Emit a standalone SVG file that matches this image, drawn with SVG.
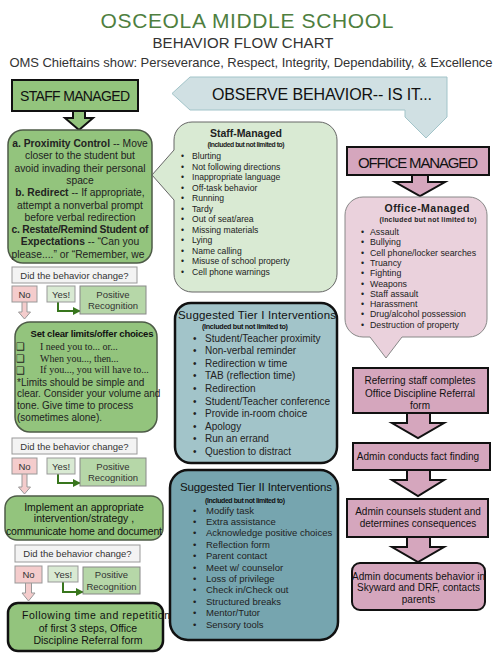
<svg xmlns="http://www.w3.org/2000/svg" width="500" height="656" viewBox="0 0 500 656">
<defs>
<style>
text{font-family:"Liberation Sans",Arial,sans-serif;fill:#222}
.c{text-anchor:middle}
.b{font-weight:bold}
.g{fill:#93c47d;stroke:#4d5b47;stroke-width:1.5}
.pk{fill:#d5a6bd;stroke:#111;stroke-width:2}
.blk{stroke:#111;stroke-width:2}
.did{fill:#f3f3f3;stroke:#999;stroke-width:1}
.no{fill:#f4cccc;stroke:#999;stroke-width:1}
.yes{fill:#d9ead3;stroke:#999;stroke-width:1}
.pr{fill:#b6d7a8;stroke:#888;stroke-width:1}
.sm{font-size:9.5px;fill:#333}
.el{fill:none;stroke:#38761d;stroke-width:2;marker-end:url(#ah)}
.na{fill:#f4cccc;stroke:#999;stroke-width:1}
.bl{font-size:8.6px;fill:#333}
.t1{font-size:10px;fill:#222}
.t2{font-size:9.5px;fill:#1a1a1a}
.cb{font-family:"DejaVu Sans",sans-serif;font-size:10px}
.sf{font-family:"Liberation Serif",serif}
</style>
<marker id="ah" viewBox="0 0 10 10" refX="9" refY="5" markerWidth="4" markerHeight="4" orient="auto"><path d="M0,0 L10,5 L0,10 Z" fill="#38761d"/></marker>
</defs>
<rect width="500" height="656" fill="#fff"/>

<g id="title">
<text x="247" y="28" class="c" style="font-size:21px;fill:#4f7f3f" textLength="293">OSCEOLA MIDDLE SCHOOL</text>
<text x="243" y="48" class="c" style="font-size:15px;fill:#333" textLength="181">BEHAVIOR FLOW CHART</text>
<text x="251" y="67" class="c" style="font-size:13px;fill:#333" textLength="483">OMS Chieftains show: Perseverance, Respect, Integrity, Dependability, &amp; Excellence</text>
</g>

<g id="connectors">
<path id="observe" d="M190,77 L447,77 L447,117 L426,138 L405,117 L405,110 L190,110 L172,93.5 Z" fill="#d0e0e3" stroke="#a2c4c9" stroke-width="1"/>
<path d="M73,112 V118 H65 L79,130 L93,118 H85 V112" fill="#93c47d" class="blk"/>
<path d="M412,175 V182 H395 L420,196 L445,182 H428 V175" fill="#d5a6bd" class="blk"/>
<path d="M407,413 V423 H392 L418,438 L444,423 H430 V413" fill="#d5a6bd" class="blk"/>
<path d="M407,470 V480 H392 L418,496 L444,480 H430 V470" fill="#d5a6bd" class="blk"/>
<path d="M407,537 V547 H392 L418,562 L444,547 H430 V537" fill="#d5a6bd" class="blk"/>
<path d="M22,302 V312 H18.5 L24.5,319 L30.5,312 H27 V302" class="na"/>
<path d="M22,474 V487 H18.5 L24.5,494 L30.5,487 H27 V474" class="na"/>
<path d="M25.5,583 V593 H22 L28.5,601 L35,593 H31.5 V583" class="na"/>
<path d="M58,302 V311 H80" class="el"/>
<path d="M58,474 V483 H80" class="el"/>
<path d="M63,582 V592 H83" class="el"/>
</g>

<g id="observe-label"><text x="322" y="100" class="c" style="font-size:16px;fill:#111" textLength="220">OBSERVE BEHAVIOR-- IS IT...</text></g>

<g id="staff-managed">
<rect x="12" y="80" width="126" height="31" class="g" style="stroke:#111;stroke-width:2"/>
<text x="75" y="101" class="c" style="font-size:14px;fill:#111" textLength="110">STAFF MANAGED</text>
</g>

<g id="abc">
<rect x="8" y="130" width="144" height="133" rx="15" class="g"/>
<g style="font-size:10.3px" class="c">
<text x="80" y="147"><tspan class="b">a. Proximity Control</tspan> -- Move</text>
<text x="80" y="159.3">closer to the student but</text>
<text x="80" y="171.6">avoid invading their personal</text>
<text x="80" y="183.9">space</text>
<text x="80" y="196.2"><tspan class="b">b. Redirect</tspan> -- If appropriate,</text>
<text x="80" y="208.5">attempt a nonverbal prompt</text>
<text x="80" y="220.8">before verbal redirection</text>
<text x="80" y="233.1" class="b" textLength="137">c. Restate/Remind Student of</text>
<text x="80" y="245.4"><tspan class="b">Expectations</tspan> -- “Can you</text>
<text x="78" y="257.7">please....” or “Remember, we</text>
</g>
</g>

<g id="staff-list">
<path d="M192,122 H319 A18,18 0 0 1 337,140 V274 A18,18 0 0 1 319,292 H192 A18,18 0 0 1 174,274 V200 L152,175 L174,150 V140 A18,18 0 0 1 192,122 Z" fill="#d9ead3" stroke="#666" stroke-width="1"/>
<text x="246" y="137" class="c b" style="font-size:10.5px;fill:#222" textLength="72">Staff-Managed</text>
<text x="246" y="146.5" class="c b" style="font-size:6.8px;fill:#222" textLength="77">(Included but not limited to)</text>
<g class="bl">
<text x="181" y="159">•<tspan x="192">Blurting</tspan></text>
<text x="181" y="169.5">•<tspan x="192">Not following directions</tspan></text>
<text x="181" y="180">•<tspan x="192">Inappropriate language</tspan></text>
<text x="181" y="190.5">•<tspan x="192">Off-task behavior</tspan></text>
<text x="181" y="201">•<tspan x="192">Running</tspan></text>
<text x="181" y="211.5">•<tspan x="192">Tardy</tspan></text>
<text x="181" y="222">•<tspan x="192">Out of seat/area</tspan></text>
<text x="181" y="232.5">•<tspan x="192">Missing materials</tspan></text>
<text x="181" y="243">•<tspan x="192">Lying</tspan></text>
<text x="181" y="253.5">•<tspan x="192">Name calling</tspan></text>
<text x="181" y="264">•<tspan x="192">Misuse of school property</tspan></text>
<text x="181" y="274.5">•<tspan x="192">Cell phone warnings</tspan></text>
</g>
</g>

<g id="office-managed">
<rect x="347" y="147" width="142" height="28" fill="#d5a6bd" stroke="#111" stroke-width="2"/>
<text x="418" y="168" class="c" style="font-size:15px;fill:#111" textLength="120">OFFICE MANAGED</text>
</g>

<g id="office-list">
<path d="M363,197 H469 A18,18 0 0 1 487,215 V319 A18,18 0 0 1 469,337 H402 L386,358 L370,337 H363 A18,18 0 0 1 345,319 V215 A18,18 0 0 1 363,197 Z" fill="#ead1dc" stroke="#888" stroke-width="1"/>
<text x="427" y="212" class="c b" style="font-size:10.5px;fill:#222" textLength="85">Office-Managed</text>
<text x="428" y="222" class="c b" style="font-size:6.8px;fill:#222" textLength="97">(Included but not limited to)</text>
<g class="bl" style="font-size:8.8px">
<text x="361" y="235">•<tspan x="370">Assault</tspan></text>
<text x="361" y="245.3">•<tspan x="370">Bullying</tspan></text>
<text x="361" y="255.6">•<tspan x="370">Cell phone/locker searches</tspan></text>
<text x="361" y="265.9">•<tspan x="370">Truancy</tspan></text>
<text x="361" y="276.2">•<tspan x="370">Fighting</tspan></text>
<text x="361" y="286.5">•<tspan x="370">Weapons</tspan></text>
<text x="361" y="296.8">•<tspan x="370">Staff assault</tspan></text>
<text x="361" y="307.1">•<tspan x="370">Harassment</tspan></text>
<text x="361" y="317.4">•<tspan x="370">Drug/alcohol possession</tspan></text>
<text x="361" y="327.7">•<tspan x="370">Destruction of property</tspan></text>
</g>
</g>

<g id="check1">
<rect x="12" y="267" width="125" height="16" class="did"/>
<text x="74.5" y="278.5" class="c sm">Did the behavior change?</text>
</g>
<g id="no1"><rect x="12" y="286" width="25" height="16" class="no"/><text x="24.5" y="297.5" class="c sm">No</text></g>
<g id="yes1"><rect x="47" y="286" width="28" height="16" class="yes"/><text x="61" y="297.5" class="c sm">Yes!</text></g>
<g id="pr1"><rect x="80" y="286" width="66" height="28" class="pr"/><text x="113" y="297.5" class="c sm">Positive</text><text x="113" y="309" class="c sm">Recognition</text></g>

<g id="limits">
<rect x="15" y="322" width="142" height="110" rx="15" class="g"/>
<text x="92" y="336.5" class="c b" style="font-size:9.5px;fill:#111" textLength="123">Set clear limits/offer choices</text>
<g style="font-size:10px">
<text x="16" y="350" class="cb">❑</text>
<text x="40" y="349.5" class="sf">I need you to... or...</text>
<text x="16" y="362" class="cb">❑</text>
<text x="40" y="361.5" class="sf">When you..., then...</text>
<text x="16" y="373.5" class="cb">❑</text>
<text x="40" y="373" class="sf">If you..., you will have to...</text>
<text x="17" y="385.5">*Limits should be simple and</text>
<text x="17" y="397">clear. Consider your volume and</text>
<text x="17" y="408.5">tone. Give time to process</text>
<text x="17" y="420.5">(sometimes alone).</text>
</g>
</g>

<g id="check2">
<rect x="12" y="438" width="125" height="16" class="did"/>
<text x="74.5" y="449.5" class="c sm">Did the behavior change?</text>
</g>
<g id="no2"><rect x="12" y="458" width="25" height="16" class="no"/><text x="24.5" y="469.5" class="c sm">No</text></g>
<g id="yes2"><rect x="47" y="458" width="28" height="16" class="yes"/><text x="61" y="469.5" class="c sm">Yes!</text></g>
<g id="pr2"><rect x="80" y="458" width="66" height="28" class="pr"/><text x="113" y="469.5" class="c sm">Positive</text><text x="113" y="481" class="c sm">Recognition</text></g>

<g id="implement">
<rect x="5" y="496" width="158" height="44" rx="12" class="g"/>
<g class="c" style="font-size:10.5px">
<text x="84" y="510.5" style="fill:#111">Implement an appropriate</text>
<text x="84" y="522" style="fill:#111">intervention/strategy ,</text>
<text x="84" y="534.5" style="fill:#111" textLength="156">communicate home and document</text>
</g>
</g>

<g id="check3">
<rect x="15" y="545" width="125" height="17" class="did"/>
<text x="77.5" y="557" class="c sm">Did the behavior change?</text>
</g>
<g id="no3"><rect x="15" y="566" width="27" height="17" class="no"/><text x="28.5" y="578" class="c sm">No</text></g>
<g id="yes3"><rect x="48" y="566" width="30" height="16" class="yes"/><text x="63" y="577.5" class="c sm">Yes!</text></g>
<g id="pr3"><rect x="83" y="567" width="57" height="27" class="pr"/><text x="111.5" y="578" class="c sm">Positive</text><text x="111.5" y="590" class="c sm">Recognition</text></g>

<g id="final">
<rect x="8" y="603" width="155" height="48" rx="10" fill="#93c47d" stroke="#111" stroke-width="2.5"/>
<g class="c" style="font-size:10.5px">
<text x="96" y="618.5" style="fill:#111" textLength="148">Following time and repetition</text>
<text x="88" y="631.5" style="fill:#111">of first 3 steps, Office</text>
<text x="88" y="644" style="fill:#111">Discipline  Referral form</text>
</g>
</g>

<g id="tier1">
<rect x="175" y="303" width="162" height="160" rx="16" fill="#a2c4c9" stroke="#111" stroke-width="2.5"/>
<text x="257" y="319" class="c" style="font-size:11.5px;fill:#111" textLength="158">Suggested Tier I Interventions</text>
<text x="245" y="328.5" class="c b" style="font-size:7.2px;fill:#111" textLength="86">(Included but not limited to)</text>
<g class="t1">
<text x="193" y="341.5">•<tspan x="205">Student/Teacher proximity</tspan></text>
<text x="193" y="354.1">•<tspan x="205">Non-verbal reminder</tspan></text>
<text x="193" y="366.7">•<tspan x="205">Redirection w time</tspan></text>
<text x="193" y="379.3">•<tspan x="205">TAB (reflection time)</tspan></text>
<text x="193" y="391.9">•<tspan x="205">Redirection</tspan></text>
<text x="193" y="404.5">•<tspan x="205">Student/Teacher conference</tspan></text>
<text x="193" y="417.1">•<tspan x="205">Provide in-room choice</tspan></text>
<text x="193" y="429.7">•<tspan x="205">Apology</tspan></text>
<text x="193" y="442.3">•<tspan x="205">Run an errand</tspan></text>
<text x="193" y="454.9">•<tspan x="205">Question to distract</tspan></text>
</g>
</g>

<g id="tier2">
<rect x="170" y="470" width="168" height="170" rx="18" fill="#76a5af" stroke="#111" stroke-width="2.5"/>
<text x="256" y="491" class="c" style="font-size:11.5px;fill:#111" textLength="152">Suggested Tier II Interventions</text>
<text x="245" y="503" class="c b" style="font-size:7px;fill:#111" textLength="80">(Included but not limited to)</text>
<g class="t2">
<text x="193" y="513.5">•<tspan x="206">Modify task</tspan></text>
<text x="193" y="524.9">•<tspan x="206">Extra assistance</tspan></text>
<text x="193" y="536.3">•<tspan x="206">Acknowledge positive choices</tspan></text>
<text x="193" y="547.7">•<tspan x="206">Reflection form</tspan></text>
<text x="193" y="559.1">•<tspan x="206">Parent contact</tspan></text>
<text x="193" y="570.5">•<tspan x="206">Meet w/ counselor</tspan></text>
<text x="193" y="581.9">•<tspan x="206">Loss of privilege</tspan></text>
<text x="193" y="593.3">•<tspan x="206">Check in/Check out</tspan></text>
<text x="193" y="604.7">•<tspan x="206">Structured breaks</tspan></text>
<text x="193" y="616.1">•<tspan x="206">Mentor/Tutor</tspan></text>
<text x="193" y="627.5">•<tspan x="206">Sensory tools</tspan></text>
</g>
</g>

<g id="referral">
<rect x="353" y="368" width="135" height="45" class="pk"/>
<g class="c" style="font-size:10px">
<text x="420" y="383.5" style="fill:#111">Referring staff completes</text>
<text x="420" y="396.5" style="fill:#111">Office Discipline  Referral</text>
<text x="420" y="409" style="fill:#111">form</text>
</g>
</g>

<g id="fact-finding">
<rect x="353" y="443" width="137" height="27" class="pk"/>
<text x="418" y="460" class="c" style="font-size:10px;fill:#111">Admin conducts fact finding</text>
</g>

<g id="counsels">
<rect x="347" y="499" width="141" height="38" class="pk"/>
<text x="418" y="515" class="c" style="font-size:10px;fill:#111">Admin counsels student and</text>
<text x="418" y="527" class="c" style="font-size:10px;fill:#111">determines consequences</text>
</g>

<g id="documents">
<rect x="352" y="563" width="133" height="47" rx="8" class="pk"/>
<text x="418.5" y="579.5" class="c" style="font-size:10px;fill:#111" textLength="133">Admin documents behavior in</text>
<text x="418.5" y="591" class="c" style="font-size:10px;fill:#111">Skyward and  DRF, contacts</text>
<text x="418.5" y="603" class="c" style="font-size:10px;fill:#111">parents</text>
</g>
</svg>
